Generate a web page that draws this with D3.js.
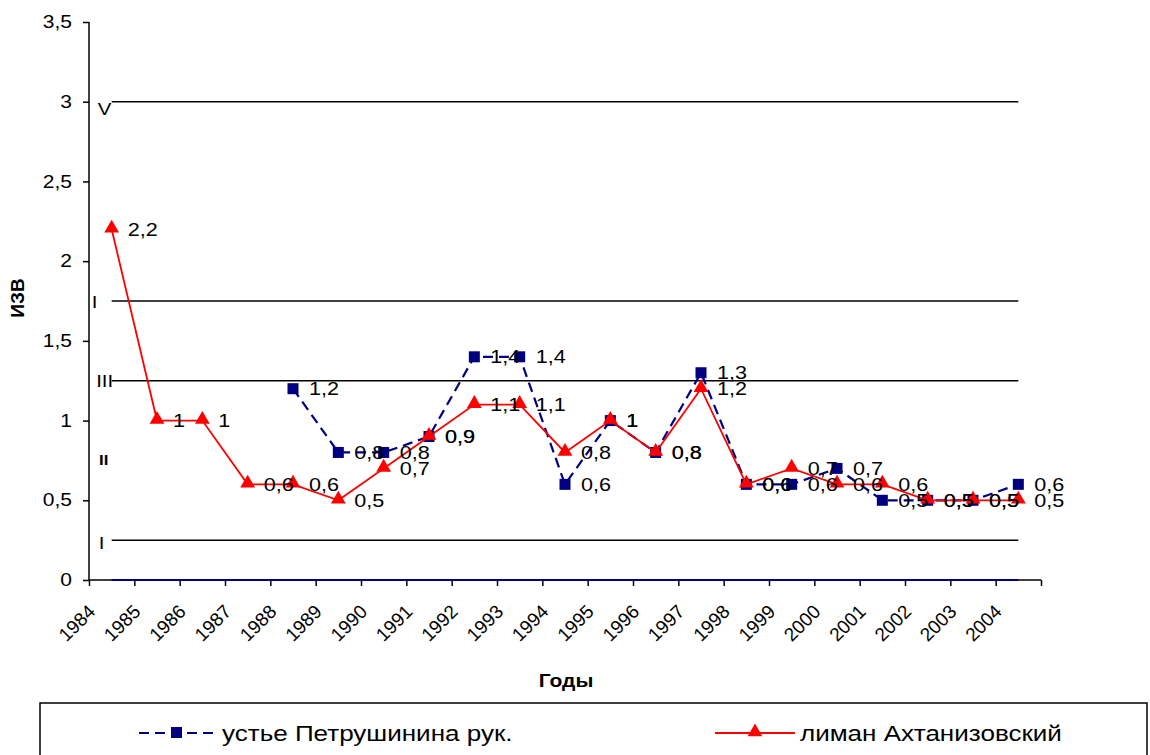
<!DOCTYPE html>
<html>
<head>
<meta charset="utf-8">
<script src="https://cdn.jsdelivr.net/npm/d3@7"></script>
<style>
  body { margin: 0; background: #fff; }
  svg { font-family: "Liberation Sans", Arial, sans-serif; }
</style>
</head>
<body>
<div class="chart"></div>
<script>
// Data
const years = ["1984","1985","1986","1987","1988","1989","1990","1991","1992","1993","1994",
               "1995","1996","1997","1998","1999","2000","2001","2002","2003","2004"];
const petrush = [null,null,null,null,1.2,0.8,0.8,0.9,1.4,1.4,0.6,1,0.8,1.3,0.6,0.6,0.7,0.5,0.5,0.5,0.6];
const akhtan  = [2.2,1,1,0.6,0.6,0.5,0.7,0.9,1.1,1.1,0.8,1,0.8,1.2,0.6,0.7,0.6,0.6,0.5,0.5,0.5];
const classLevels = [3, 1.75, 1.25, 0.25];
const classLabels = ["V", "I", "III", "I"];
const iiLevel = 0.75, iiLabel = "II";
const yTicks = [0, 0.5, 1, 1.5, 2, 2.5, 3, 3.5];
const seriesNames = ["устье Петрушинина рук.", "лиман Ахтанизовский"];

const W = 1150, H = 755;
const SX = 1.2; // text in the picture is a bit wide
const fmt = d => String(d).replace(".", ",");

// turn x/y into a transform so the glyphs can be widened
function stretch(sel) {
    sel.each(function() {
        const t = d3.select(this);
        const px = +t.attr("x") || 0, py = +t.attr("y") || 0;
        t.attr("x", null).attr("y", null)
         .attr("transform", "translate(" + px + "," + py + ") scale(" + SX + ",1)");
    });
}

const svg = d3.select(".chart").append("svg")
    .attr("width", W).attr("height", H);

// Scales
const x = d3.scaleBand().domain(years).range([89, 1041]).padding(0);
const cx = d => x(d) + x.bandwidth() / 2;
const y = d3.scaleLinear().domain([0, 3.5]).range([580, 22]);
const xi = d3.scaleLinear().domain([0, years.length]).range([89, 1041]);

// Y axis
const yAxis = svg.append("g")
    .attr("transform", "translate(89,0)")
    .call(d3.axisLeft(y).tickValues(yTicks).tickFormat(fmt).tickSize(6).tickPadding(11));
yAxis.selectAll("text").style("font-size", "17.5px").attr("fill", "#000").call(stretch);
yAxis.selectAll("line, path").attr("stroke", "#000").attr("stroke-width", 1.5);
yAxis.select(".domain").attr("d", "M0," + y(3.5) + "V" + y(0));

// X axis
const xAxis = svg.append("g")
    .attr("transform", "translate(0,580)")
    .call(d3.axisBottom(xi).tickValues(d3.range(years.length + 1)).tickFormat("").tickSize(6));
xAxis.selectAll("line, path").attr("stroke", "#000").attr("stroke-width", 1.5);
xAxis.select(".domain").attr("d", "M89,0H1041");

svg.append("g").selectAll("text")
    .data(years)
    .enter().append("text")
    .attr("transform", d => "translate(" + (cx(d) - 20) + ",608) rotate(-45)")
    .attr("text-anchor", "end")
    .attr("dy", "0.35em")
    .style("font-size", "19px")
    .text(d => d);

// Class lines
const first = cx(years[0]), last = cx(years[years.length - 1]);
svg.append("g").selectAll("line")
    .data(classLevels)
    .enter().append("line")
    .attr("x1", first).attr("x2", last)
    .attr("y1", d => y(d)).attr("y2", d => y(d))
    .attr("stroke", "#000").attr("stroke-width", 1.5);

// zero line series
svg.append("line")
    .attr("x1", first).attr("x2", last)
    .attr("y1", y(0)).attr("y2", y(0))
    .attr("stroke", "#000080").attr("stroke-width", 2);

const labelShift = [[-7, 7], [-17, 1], [-7, 0], [-10, 3]];
svg.append("g").selectAll("text")
    .data(classLevels)
    .enter().append("text")
    .attr("x", (d, i) => first + labelShift[i][0])
    .attr("y", (d, i) => y(d) + labelShift[i][1])
    .attr("dy", "0.35em")
    .attr("text-anchor", "middle")
    .style("font-size", "17px")
    .text((d, i) => classLabels[i])
    .call(stretch);
svg.append("text")
    .attr("x", first - 8).attr("y", y(iiLevel))
    .attr("dy", "0.35em").attr("text-anchor", "middle")
    .style("font-size", "14px").style("font-weight", "bold")
    .text(iiLabel)
    .call(stretch);

// Series
const line = d3.line()
    .defined(d => d.v !== null)
    .x(d => cx(d.year))
    .y(d => y(d.v));

const blue = years.map((yr, i) => ({ year: yr, v: petrush[i] }));
const red  = years.map((yr, i) => ({ year: yr, v: akhtan[i] }));

svg.append("path")
    .datum(blue)
    .attr("d", line)
    .attr("fill", "none")
    .attr("stroke", "#000080")
    .attr("stroke-width", 2.2)
    .attr("stroke-dasharray", "10,6");

svg.append("g").selectAll("rect")
    .data(blue.filter(d => d.v !== null))
    .enter().append("rect")
    .attr("x", d => cx(d.year) - 5.5)
    .attr("y", d => y(d.v) - 5.5)
    .attr("width", 11).attr("height", 11)
    .attr("fill", "#000080");

svg.append("path")
    .datum(red)
    .attr("d", line)
    .attr("fill", "none")
    .attr("stroke", "#ff0000")
    .attr("stroke-width", 1.8);

const tri = d3.symbol().type(d3.symbolTriangle).size(95);
svg.append("g").selectAll("path")
    .data(red)
    .enter().append("path")
    .attr("d", tri)
    .attr("transform", d => "translate(" + cx(d.year) + "," + (y(d.v) - 1) + ")")
    .attr("fill", "#ff0000");

// Data labels
[blue, red].forEach(s => {
    svg.append("g").selectAll("text")
        .data(s.filter(d => d.v !== null))
        .enter().append("text")
        .attr("x", d => cx(d.year) + 16)
        .attr("y", d => y(d.v))
        .attr("dy", "0.36em")
        .style("font-size", "18px")
        .text(d => fmt(d.v))
        .call(stretch);
});

// Axis titles
svg.append("text")
    .attr("transform", "translate(24,298) rotate(-90)")
    .attr("text-anchor", "middle")
    .style("font-size", "19px").style("font-weight", "bold")
    .text("ИЗВ");

svg.append("text")
    .attr("x", 566).attr("y", 681)
    .attr("dy", "0.36em")
    .attr("text-anchor", "middle")
    .style("font-size", "17.5px").style("font-weight", "bold")
    .text("Годы")
    .call(stretch);

// Legend
svg.append("rect")
    .attr("x", 40).attr("y", 703)
    .attr("width", 1107).attr("height", 70)
    .attr("fill", "#fff").attr("stroke", "#000").attr("stroke-width", 1.5);

const lg = svg.append("g");
lg.append("line")
    .attr("x1", 139).attr("x2", 218).attr("y1", 733).attr("y2", 733)
    .attr("stroke", "#000080").attr("stroke-width", 2.2).attr("stroke-dasharray", "10,6");
lg.append("rect")
    .attr("x", 171).attr("y", 727).attr("width", 11).attr("height", 11)
    .attr("fill", "#000080");
lg.append("text")
    .attr("x", 222).attr("y", 733).attr("dy", "0.36em")
    .style("font-size", "21.7px").text(seriesNames[0])
    .call(stretch);

lg.append("line")
    .attr("x1", 715).attr("x2", 795).attr("y1", 733).attr("y2", 733)
    .attr("stroke", "#ff0000").attr("stroke-width", 1.8);
lg.append("path")
    .attr("d", tri)
    .attr("transform", "translate(755,732)")
    .attr("fill", "#ff0000");
lg.append("text")
    .attr("x", 800).attr("y", 733).attr("dy", "0.36em")
    .style("font-size", "21.7px").text(seriesNames[1])
    .call(stretch);
</script>
</body>
</html>
